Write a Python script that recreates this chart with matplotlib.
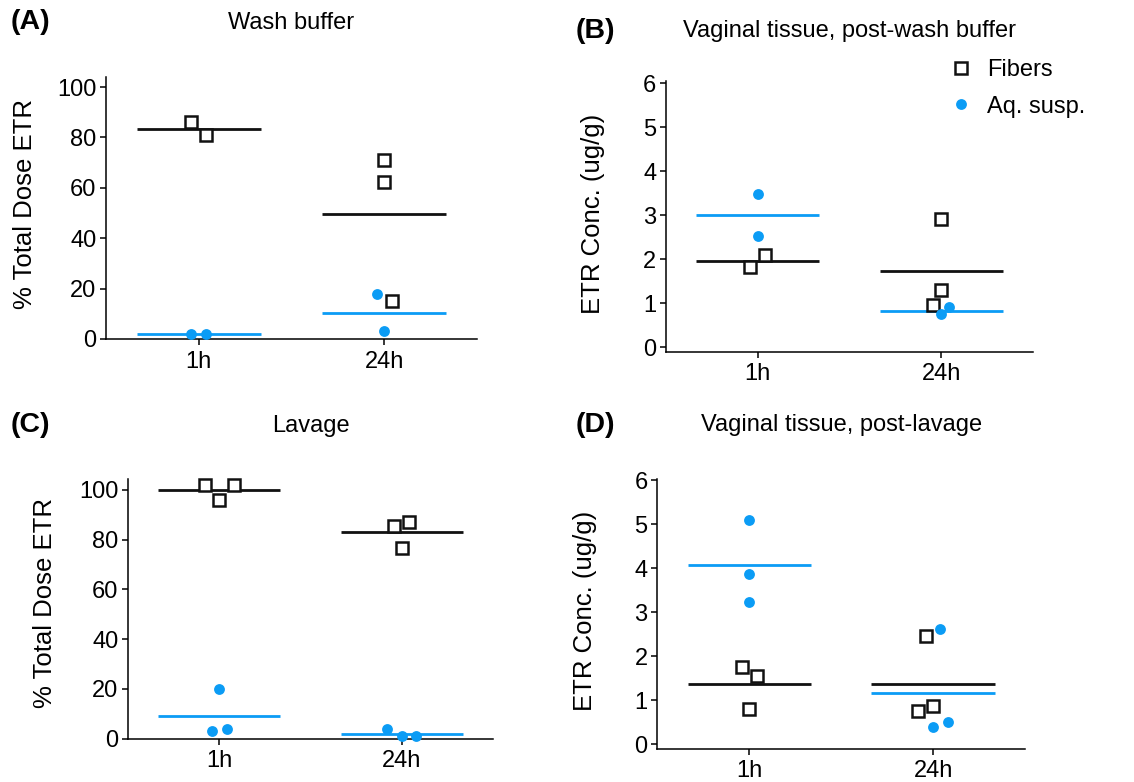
import matplotlib
matplotlib.use("Agg")
import matplotlib.pyplot as plt
from matplotlib.lines import Line2D
import numpy as np

plt.rcParams['font.family'] = ['Liberation Sans', 'DejaVu Sans']

timepoints = ["1h", "24h"]
FIB = "#111111"
AQ = "#0b9cf5"

# Panel A: wash buffer, % total dose
a_fib_1h = [86.1, 81.0]
a_fib_24h = [71.0, 62.4, 15.2]
a_aq_1h = [2.0, 2.1]
a_aq_24h = [17.7, 3.0]

# Panel B: vaginal tissue after wash buffer, ug/g
b_fib_1h = [1.83, 2.10]
b_fib_24h = [2.92, 1.30, 0.96]
b_aq_1h = [3.48, 2.54]
b_aq_24h = [0.75, 0.92]

# Panel C: lavage, % total dose
c_fib_1h = [101.9, 96.1, 101.9]
c_fib_24h = [85.4, 87.3, 76.6]
c_aq_1h = [3.2, 19.9, 3.8]
c_aq_24h = [4.0, 1.1, 1.1]

# Panel D: vaginal tissue after lavage, ug/g
d_fib_1h = [1.75, 0.79, 1.54]
d_fib_24h = [0.75, 2.46, 0.87]
d_aq_1h = [5.10, 3.87, 3.23]
d_aq_24h = [0.39, 2.61, 0.51]

# horizontal jitter for each point (category units)
a_fib_dx = ([-0.04, 0.04], [0.0, 0.0, 0.04])
a_aq_dx = ([-0.04, 0.04], [-0.04, 0.0])
b_fib_dx = ([-0.04, 0.04], [0.0, 0.0, -0.045])
b_aq_dx = ([0.0, 0.0], [0.0, 0.045])
c_fib_dx = ([-0.08, 0.0, 0.08], [-0.04, 0.04, 0.0])
c_aq_dx = ([-0.04, 0.0, 0.04], [-0.08, 0.0, 0.08])
d_fib_dx = ([-0.04, 0.0, 0.04], [-0.08, -0.04, 0.0])
d_aq_dx = ([0.0, 0.0, 0.0], [0.0, 0.04, 0.08])

fig = plt.figure(figsize=(11.34, 7.82), dpi=100)

panels = [
    dict(rect=[0.0935, 0.5665, 0.3271, 0.3350], ylim=(0, 104), yticks=[0, 20, 40, 60, 80, 100],
         ylabel="% Total Dose ETR", ylab_xy=(-0.218, 0.515), title="Wash buffer", tag="(A)",
         tagxy=(0.009, 0.972), ttl_y=0.970,
         fib=(a_fib_1h, a_fib_24h), aq=(a_aq_1h, a_aq_24h), fdx=a_fib_dx, adx=a_aq_dx),
    dict(rect=[0.5873, 0.5503, 0.3236, 0.3460], ylim=(-0.1, 6.05), yticks=[0, 1, 2, 3, 4, 5, 6],
         ylabel="ETR Conc. (ug/g)", ylab_xy=(-0.198, 0.509),
         title="Vaginal tissue, post-wash buffer", tag="(B)",
         tagxy=(0.508, 0.960), ttl_y=0.960,
         fib=(b_fib_1h, b_fib_24h), aq=(b_aq_1h, b_aq_24h), fdx=b_fib_dx, adx=b_aq_dx),
    dict(rect=[0.1131, 0.0554, 0.3214, 0.3321], ylim=(0, 104.4), yticks=[0, 20, 40, 60, 80, 100],
         ylabel="% Total Dose ETR", ylab_xy=(-0.228, 0.521), title="Lavage", tag="(C)",
         tagxy=(0.009, 0.456), ttl_y=0.455,
         fib=(c_fib_1h, c_fib_24h), aq=(c_aq_1h, c_aq_24h), fdx=c_fib_dx, adx=c_aq_dx),
    dict(rect=[0.5796, 0.0426, 0.3243, 0.3452], ylim=(-0.1, 6.03), yticks=[0, 1, 2, 3, 4, 5, 6],
         ylabel="ETR Conc. (ug/g)", ylab_xy=(-0.197, 0.510),
         title="Vaginal tissue, post-lavage", tag="(D)",
         tagxy=(0.508, 0.456), ttl_y=0.456,
         fib=(d_fib_1h, d_fib_24h), aq=(d_aq_1h, d_aq_24h), fdx=d_fib_dx, adx=d_aq_dx),
]

FS = 17
SQ = dict(marker="s", ms=8.0, mfc="white", mec=FIB, mew=1.8)
DOT = dict(marker="o", ms=7.8, mfc=AQ, mec=AQ, mew=0)

for p in panels:
    ax = fig.add_axes(p["rect"])
    for i in range(len(timepoints)):
        fv = np.array(p["fib"][i])
        av = np.array(p["aq"][i])
        ax.plot(i + np.array(p["fdx"][i]), fv, linestyle="none", zorder=4, clip_on=False, **SQ)
        ax.plot(i + np.array(p["adx"][i]), av, linestyle="none", zorder=5, clip_on=False, **DOT)
        ax.plot([i - 0.335, i + 0.335], [fv.mean()] * 2, color=FIB, lw=2.0, zorder=3,
                solid_capstyle="butt")
        ax.plot([i - 0.335, i + 0.335], [av.mean()] * 2, color=AQ, lw=2.0, zorder=3,
                solid_capstyle="butt")
    ax.set_xlim(-0.5, 1.5)
    ax.set_ylim(*p["ylim"])
    ax.set_yticks(p["yticks"])
    ax.set_xticks(range(len(timepoints)))
    ax.set_xticklabels(timepoints)
    for s in ("top", "right"):
        ax.spines[s].set_visible(False)
    for s in ("left", "bottom"):
        ax.spines[s].set_linewidth(1.1)
    ax.tick_params(axis="both", direction="out", length=4.5, width=1.1, labelsize=FS, pad=2.5)
    ax.tick_params(axis="x", pad=4)
    ax.set_ylabel(p["ylabel"], fontsize=18.5, va="center")
    ax.yaxis.set_label_coords(*p["ylab_xy"])
    fig.text(p["rect"][0] + p["rect"][2] / 2, p["ttl_y"], p["title"], fontsize=FS,
             ha="center", va="center")
    fig.text(p["tagxy"][0], p["tagxy"][1], p["tag"], fontsize=20.5, fontweight="bold",
             ha="left", va="center")

handles = [
    Line2D([], [], linestyle="none", **SQ),
    Line2D([], [], linestyle="none", **DOT),
]
fig.legend(handles, ["Fibers", "Aq. susp."], loc="upper left",
           bbox_to_anchor=(0.829, 0.936), frameon=False, fontsize=FS,
           handlelength=1.0, handletextpad=0.6, labelspacing=0.6, borderaxespad=0)

fig.savefig("out.png", dpi=100, facecolor="white")
